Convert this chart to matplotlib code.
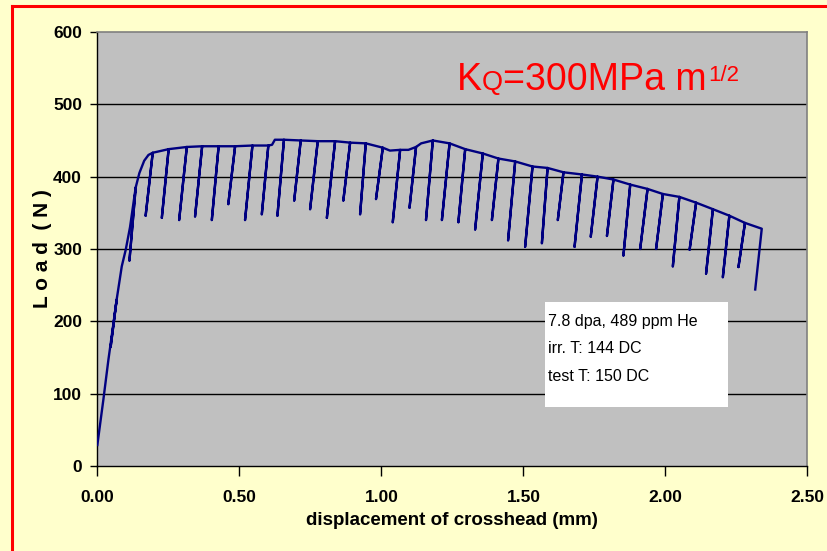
import matplotlib
matplotlib.use("Agg")
import matplotlib.pyplot as plt
from matplotlib.lines import Line2D
from matplotlib.patches import Rectangle

# envelope of the load-displacement curve (points that are not cycle peaks)
env_disp = [0.000, 0.021, 0.039, 0.056, 0.086, 0.100, 0.115, 0.148, 0.165, 0.180,
            0.615, 0.625, 1.030, 1.095, 1.140]
env_load = [29, 91, 147, 195, 276, 299, 330, 405, 422, 430,
            444, 451, 436, 437, 446]

# unloading cycles: peak on the envelope and bottom of the unloading line
peak_disp = [0.068, 0.135, 0.195, 0.251, 0.315, 0.369, 0.427, 0.485, 0.546, 0.602,
             0.657, 0.716, 0.776, 0.837, 0.890, 0.945, 1.005, 1.066, 1.122, 1.181,
             1.240, 1.295, 1.357, 1.412, 1.471, 1.532, 1.585, 1.641, 1.706, 1.761,
             1.817, 1.876, 1.937, 1.991, 2.049, 2.108, 2.167, 2.225, 2.280, 2.339]
peak_load = [230, 385, 433, 438, 441, 442, 442, 442, 443, 443,
             451, 450, 449, 449, 447, 446, 440, 437, 441, 450,
             446, 438, 432, 425, 421, 414, 412, 406, 403, 400,
             396, 389, 383, 376, 372, 364, 355, 346, 336, 328]
valley_disp = [0.047, 0.113, 0.170, 0.227, 0.288, 0.344, 0.403, 0.461, 0.520, 0.579,
               0.634, 0.693, 0.749, 0.808, 0.866, 0.925, 0.981, 1.040, 1.099, 1.157,
               1.213, 1.271, 1.330, 1.389, 1.446, 1.506, 1.565, 1.621, 1.680, 1.737,
               1.794, 1.852, 1.911, 1.967, 2.026, 2.085, 2.143, 2.202, 2.257, 2.316]
valley_load = [165, 284, 346, 343, 340, 345, 340, 362, 340, 348,
               346, 367, 355, 343, 367, 348, 369, 337, 357, 340,
               340, 337, 327, 340, 312, 303, 308, 340, 303, 317,
               318, 291, 300, 300, 276, 299, 266, 261, 275, 244]

x_ticks = [0.0, 0.5, 1.0, 1.5, 2.0, 2.5]
y_ticks = [0, 100, 200, 300, 400, 500, 600]
info_lines = ["7.8 dpa, 489 ppm He", "irr. T: 144 DC", "test T: 150 DC"]

# build the path: follow the envelope, at each peak unload to the valley and reload
pts = [(d, l, -1) for d, l in zip(env_disp, env_load)]
pts += [(d, l, i) for i, (d, l) in enumerate(zip(peak_disp, peak_load))]
pts.sort(key=lambda p: p[0])
xs, ys = [], []
for d, l, i in pts:
    xs.append(d)
    ys.append(l)
    if i >= 0:
        xs.append(valley_disp[i])
        ys.append(valley_load[i])
        if i < len(peak_disp) - 1:
            xs.append(d)
            ys.append(l)

font = "Liberation Sans"

fig = plt.figure(figsize=(8.27, 5.51), dpi=100)
fig.patch.set_facecolor("#FFFFCC")
ax = fig.add_axes([0.1177, 0.1543, 0.8587, 0.7877])
ax.set_facecolor("#C0C0C0")

for y in y_ticks[1:-1]:
    ax.axhline(y, color="black", linewidth=1.0, zorder=1)

ax.plot(xs, ys, color="#000080", linewidth=1.7, zorder=3)

ax.set_xlim(0, 2.5)
ax.set_ylim(0, 600)
ax.set_xticks(x_ticks)
ax.set_xticklabels(["%.2f" % v for v in x_ticks])
ax.set_yticks(y_ticks)
for lab in ax.get_xticklabels() + ax.get_yticklabels():
    lab.set_family(font)
    lab.set_fontweight("bold")
    lab.set_fontsize(12.5)
ax.tick_params(axis="y", direction="out", length=5, width=1, pad=6)
ax.tick_params(axis="x", direction="out", length=7, width=1, pad=10)

for side in ["top", "right"]:
    ax.spines[side].set_color("#808080")
    ax.spines[side].set_linewidth(1.2)
for side in ["left", "bottom"]:
    ax.spines[side].set_color("black")
    ax.spines[side].set_linewidth(1.0)

ax.set_xlabel("displacement of crosshead (mm)", family=font, fontweight="bold",
              fontsize=13.5, labelpad=5)
ax.set_ylabel("L o a d  ( N )", family=font, fontweight="bold", fontsize=15,
              labelpad=1)

# K_Q annotation
t1 = ax.text(1.267, 520, "K", color="red", fontsize=27, family=font, va="baseline")
t2 = ax.annotate("Q", xy=(1, 0), xycoords=t1, xytext=(0, 1.6),
                 textcoords="offset points", color="red", fontsize=19.5,
                 family=font, va="bottom")
t3 = ax.annotate("=300MPa m", xy=(1, 0), xycoords=t2, xytext=(0, -1.6),
                 textcoords="offset points", color="red", fontsize=27,
                 family=font, va="bottom")
ax.annotate("1/2", xy=(1, 1), xycoords=t3, xytext=(1, -2), textcoords="offset points",
            color="red", fontsize=16, family=font, va="top")

# info box
ax.add_patch(Rectangle((1.576, 82), 0.645, 145, facecolor="white", edgecolor="none",
                       zorder=4))
for k, line in enumerate(info_lines):
    ax.text(1.588, 194 - 38.5 * k, line, family=font, fontsize=11.5, va="baseline",
            zorder=5)

# red frame (left and top edges visible)
fig.add_artist(Line2D([0.0145, 0.0145], [0, 0.99], color="red", linewidth=2.2,
                      transform=fig.transFigure))
fig.add_artist(Line2D([0.0145, 1.0], [0.99, 0.99], color="red", linewidth=2.2,
                      transform=fig.transFigure))

fig.savefig("out.png", dpi=100, facecolor=fig.get_facecolor())
